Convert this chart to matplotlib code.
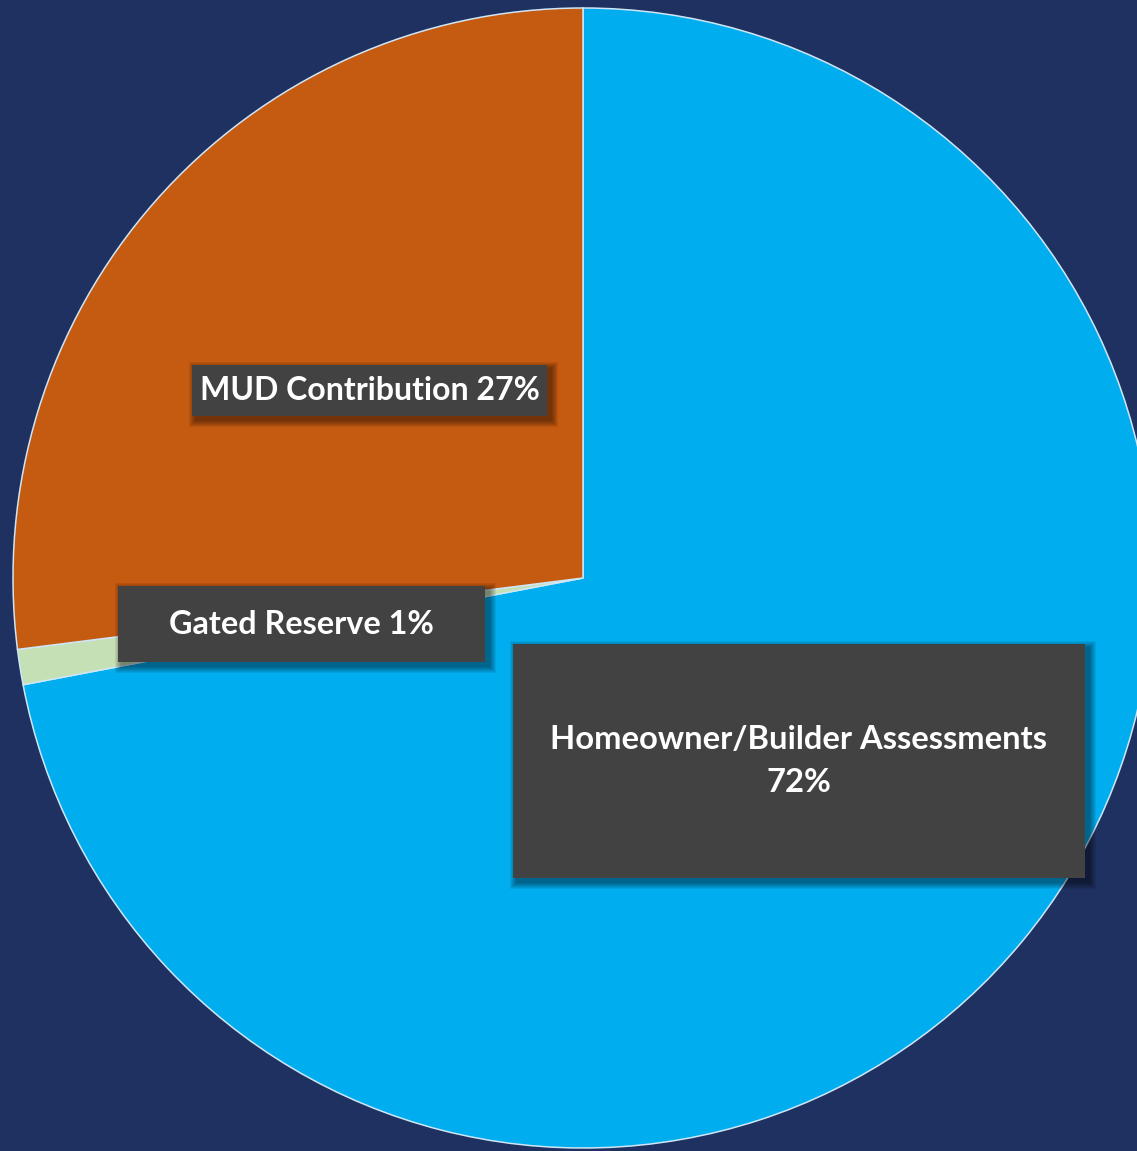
import matplotlib
matplotlib.use("Agg")
import matplotlib.pyplot as plt
from matplotlib.patches import Rectangle

# Funding sources (percent of total)
categories = ["Homeowner/Builder Assessments", "Gated Reserve", "MUD Contribution"]
shares = [72, 1, 27]
label_texts = ["Homeowner/Builder Assessments\n72%", "Gated Reserve 1%", "MUD Contribution 27%"]
colors = ["#00AEEF", "#C5E0B4", "#C55A11"]

W, H = 1137, 1151
BG = "#1F3160"

fig = plt.figure(figsize=(W / 100, H / 100), dpi=100, facecolor=BG)
ax = fig.add_axes([0, 0, 1, 1])
ax.set_facecolor(BG)

cx, cy, r = 583, H - 578, 570
ax.pie(shares, colors=colors, startangle=90, counterclock=False,
       center=(cx, cy), radius=r,
       wedgeprops=dict(edgecolor="#CFE6F7", linewidth=1.1))
ax.set_xlim(0, W)
ax.set_ylim(0, H)
ax.set_aspect("equal")
ax.axis("off")

# Callout boxes: (left, top, width, height) in pixels from the top-left corner
boxes = {
    "MUD Contribution": (192, 365, 355, 51),
    "Gated Reserve": (118, 586, 367, 76),
    "Homeowner/Builder Assessments": (513, 644, 572, 234),
}
font_sizes = {
    "MUD Contribution": 23,
    "Gated Reserve": 23.3,
    "Homeowner/Builder Assessments": 23.6,
}

for cat, txt in zip(categories, label_texts):
    x0, y0, bw, bh = boxes[cat]
    bx, by = x0, H - y0 - bh
    # soft drop shadow to the lower right
    for k in range(7, 0, -1):
        ax.add_patch(Rectangle((bx + 4 - k, by - 4 - k), bw + 2 * k, bh + 2 * k,
                               facecolor="black", edgecolor="none",
                               alpha=0.07, zorder=4))
    ax.add_patch(Rectangle((bx, by), bw, bh, facecolor="#424242",
                           edgecolor="none", zorder=5))
    ax.text(bx + bw / 2, by + bh / 2, txt, ha="center", va="center",
            color="white", fontsize=font_sizes[cat], fontweight="bold",
            family="Lato", linespacing=1.55, zorder=6)

fig.savefig("out.png", dpi=100, facecolor=BG)
